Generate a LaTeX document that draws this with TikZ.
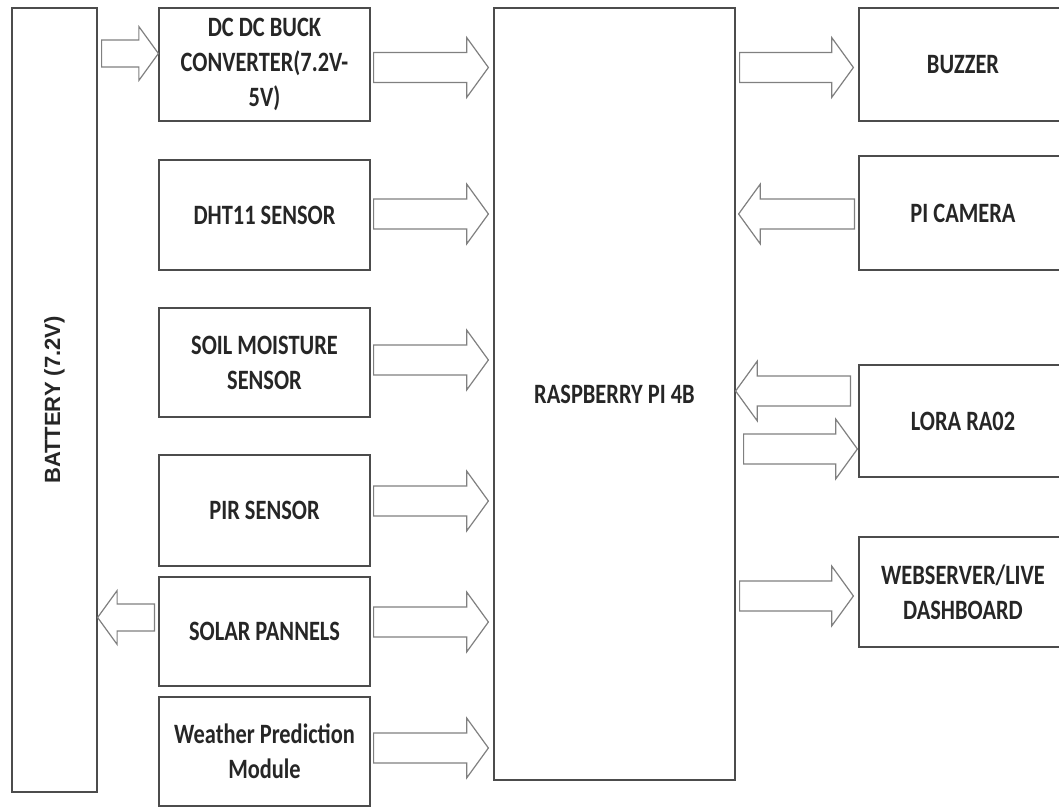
\documentclass[tikz,border=0pt]{standalone}
\usepackage{fontspec}
\setmainfont{Carlito}[FakeStretch=0.8]
\newfontfamily\batfont{Liberation Sans}
\usepackage{tikz}
\usetikzlibrary{calc}

\newcommand{\fatarrow}[3][15]{%
  \pgfmathsetmacro\headlen{1.45*#1}%
  \draw[fat] let \p1=#2, \p2=#3, \p3=($#3!\headlen pt!#2$) in
    (\x1,\y1+#1pt) -- (\x3,\y1+#1pt) -- (\x3,\y1+2*#1pt) -- (\x2,\y1)
    -- (\x3,\y1-2*#1pt) -- (\x3,\y1-#1pt) -- (\x1,\y1-#1pt) -- cycle;}

\begin{document}
\begin{tikzpicture}[x=1bp, y=-1bp,
    box/.style={draw=black!70, line width=1.2bp, minimum width=211bp, minimum height=110bp,
        align=center, text=black!85, font=\fontsize{28bp}{35bp}\selectfont\bfseries},
    fat/.style={draw=black!50, line width=1.2bp, fill=white}]
            \useasboundingbox (0,0) rectangle (1059,808);
            \fill[white] (0,0) rectangle (1059,808);
            \node[box, minimum width=85bp, minimum height=784bp,
                label={[rotate=90, text=black!85, font=\batfont\fontsize{22bp}{26bp}\selectfont\bfseries]center:BATTERY (7.2V)}] (bat) at (54.5,400) {};
            \node[box, minimum height=113bp] (dc) at (264.5,64.5) {DC DC BUCK\\CONVERTER(7.2V-\\5V)};
            \node[box] (dht) at (264.5,215) {DHT11 SENSOR};
            \node[box, minimum height=109bp] (soil) at (264.5,362.5) {SOIL MOISTURE\\SENSOR};
            \node[box, minimum height=111bp] (pir) at (264.5,510.5) {PIR SENSOR};
            \node[box, minimum height=109bp] (solar) at (264.5,631.5) {SOLAR PANNELS};
            \node[box, minimum height=109bp] (weather) at (264.5,751.5) {Weather Prediction\\Module};
            \node[box, minimum width=241bp, minimum height=772bp] (rpi) at (614.5,394) {RASPBERRY PI 4B};
            \node[box, minimum width=208bp, minimum height=113bp] (buzzer) at (963,64.5) {BUZZER};
            \node[box, minimum width=208bp, minimum height=114bp] (cam) at (963,213) {PI CAMERA};
            \node[box, minimum width=208bp, minimum height=112bp] (lora) at (963,421) {LORA RA02};
            \node[box, minimum width=208bp] (web) at (963,592) {WEBSERVER/LIVE\\DASHBOARD};
            \fatarrow[13.5]{($(bat.east |- dc.west)+(4,-11)$)}{($(dc.west)+(0,-11)$)}
            \fatarrow{($(dc.east)+(3,3)$)}{($(dc.east -| rpi.west)+(-5,3)$)}
            \fatarrow{($(dht.east)+(3,-1)$)}{($(dht.east -| rpi.west)+(-5,-1)$)}
            \fatarrow{($(soil.east)+(3,-2.5)$)}{($(soil.east -| rpi.west)+(-5,-2.5)$)}
            \fatarrow{($(pir.east)+(3,-9.5)$)}{($(pir.east -| rpi.west)+(-5,-9.5)$)}
            \fatarrow{($(solar.east)+(3,-9.5)$)}{($(solar.east -| rpi.west)+(-5,-9.5)$)}
            \fatarrow{($(weather.east)+(3,-3.5)$)}{($(weather.east -| rpi.west)+(-5,-3.5)$)}
            \fatarrow[13.5]{($(solar.west)+(-4,-14)$)}{($(solar.west -| bat.east)+(0,-14)$)}
            \fatarrow{($(rpi.east |- buzzer.west)+(4,3)$)}{($(buzzer.west)+(-5,3)$)}
            \fatarrow{($(cam.west)+(-4,1)$)}{($(cam.west -| rpi.east)+(3,1)$)}
            \fatarrow{($(lora.west)+(-8,-30)$)}{($(lora.west -| rpi.east)+(0,-30)$)}
            \fatarrow{($(rpi.east |- lora.west)+(8,28)$)}{($(lora.west)+(-1,28)$)}
            \fatarrow{($(rpi.east |- web.west)+(4,4)$)}{($(web.west)+(-5,4)$)}
        \end{tikzpicture}
\end{document}
